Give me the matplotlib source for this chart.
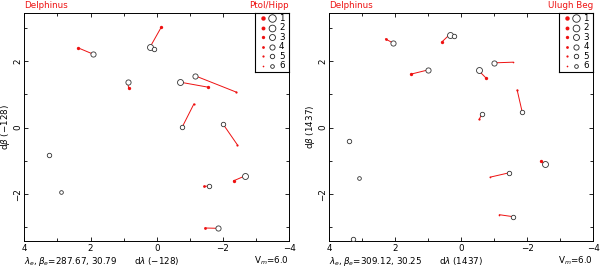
import matplotlib
matplotlib.use("Agg")
import matplotlib.pyplot as plt
from matplotlib.ticker import MultipleLocator

plt.rcParams['font.family'] = ['DejaVu Sans']
plt.rcParams['mathtext.fontset'] = 'dejavusans'

# ---------------- data ----------------
# Left panel: Ptol/Hipp
L_red_x = [2.37, -0.14, 0.85, -1.54, -2.40, -1.12, -2.43, -2.32, -1.44, -1.46]
L_red_y = [2.40, 3.03, 1.20, 1.22, 1.07, 0.71, -0.51, -1.60, -1.77, -3.02]
L_red_m = [3, 3, 3, 3, 5, 5, 5, 3, 4, 4]
L_open_x = [1.94, 0.205, 0.88, -0.70, -1.16, -0.77, -2.00, -2.67, -1.59, -1.86]
L_open_y = [2.22, 2.42, 1.37, 1.37, 1.56, 0.02, 0.11, -1.45, -1.75, -3.03]
L_open_m = [4, 3, 4, 3, 4, 5, 5, 3, 5, 4]
L_extra_x = [0.09, 3.24, 2.90]
L_extra_y = [2.38, -0.81, -1.93]
L_extra_m = [5, 5, 6]

# Right panel: Ulugh Beg
R_red_x = [2.30, 0.58, 1.53, -0.74, -1.55, -1.69, -0.54, -2.41, -0.87, -1.15]
R_red_y = [2.67, 2.59, 1.61, 1.50, 1.97, 1.13, 0.25, -1.01, -1.49, -2.62]
R_red_m = [4, 3, 3, 3, 6, 5, 5, 3, 6, 6]
R_open_x = [2.06, 0.36, 1.00, -0.52, -1.00, -1.84, -0.62, -2.54, -1.44, -1.57]
R_open_y = [2.54, 2.80, 1.74, 1.72, 1.95, 0.48, 0.41, -1.09, -1.36, -2.68]
R_open_m = [4, 3, 4, 3, 4, 5, 5, 3, 5, 5]
R_extra_x = [0.22, 3.42, 3.10, 3.27]
R_extra_y = [2.77, -0.41, -1.51, -3.35]
R_extra_m = [5, 5, 6, 5]

legend_mags = [1, 2, 3, 4, 5, 6]
legend_labels = ['1', '2', '3', '4', '5', '6']

panels = [
    dict(name='Ptol/Hipp', yl=r'd$\beta$ (−128)', xl=r'd$\lambda$ (−128)',
         info=r'$\lambda_e,\beta_e$=287.67, 30.79',
         rx=L_red_x, ry=L_red_y, rm=L_red_m, ox=L_open_x, oy=L_open_y, om=L_open_m,
         ex=L_extra_x, ey=L_extra_y, em=L_extra_m),
    dict(name='Ulugh Beg', yl=r'd$\beta$ (1437)', xl=r'd$\lambda$ (1437)',
         info=r'$\lambda_e,\beta_e$=309.12, 30.25',
         rx=R_red_x, ry=R_red_y, rm=R_red_m, ox=R_open_x, oy=R_open_y, om=R_open_m,
         ex=R_extra_x, ey=R_extra_y, em=R_extra_m),
]

RED = '#ee1111'


def red_size(m):
    return 3.2 - 0.4 * (m - 1)


def open_size(m):
    return 5.4 - 0.55 * (m - 1)


fig = plt.figure(figsize=(6.0, 2.67), dpi=100)
positions = [[0.0405, 0.0963, 0.4415, 0.8562], [0.549, 0.0963, 0.440, 0.8562]]
fs = 6.3

for pos, p in zip(positions, panels):
    ax = fig.add_axes(pos)
    ax.set_xlim(4, -4)
    ax.set_ylim(-3.42, 3.46)
    # connecting lines
    for x0, y0, x1, y1 in zip(p['ox'], p['oy'], p['rx'], p['ry']):
        ax.plot([x0, x1], [y0, y1], color=RED, lw=0.7, zorder=2)
    for x, y, m in zip(p['ox'] + p['ex'], p['oy'] + p['ey'], p['om'] + p['em']):
        ax.plot(x, y, 'o', ms=open_size(m), mfc='white', mec='#333333', mew=0.6, zorder=3)
    for x, y, m in zip(p['rx'], p['ry'], p['rm']):
        ax.plot(x, y, 'o', ms=red_size(m), mfc=RED, mec=RED, mew=0, zorder=4)

    ax.xaxis.set_minor_locator(MultipleLocator(1))
    ax.yaxis.set_minor_locator(MultipleLocator(1))
    ax.tick_params(which='both', direction='in', top=True, right=True,
                   labelsize=fs, width=0.6, pad=2)
    ax.tick_params(axis='y', pad=1.5)
    ax.tick_params(which='major', length=3)
    ax.tick_params(which='minor', length=2)
    ax.set_xticks([4, 2, 0, -2, -4])
    ax.set_xticklabels(['4', '2', '0', '−2', '−4'])
    ax.set_yticks([-2, 0, 2])
    ax.set_yticklabels(['−2', '0', '2'], rotation=90, va='center')
    for s in ax.spines.values():
        s.set_linewidth(0.7)
    ax.set_ylabel(p['yl'], fontsize=fs)
    ax.yaxis.set_label_coords(-0.048, 0.5)

    ax.text(0.0, 1.012, 'Delphinus', color=RED, fontsize=fs, transform=ax.transAxes,
            ha='left', va='bottom')
    ax.text(1.0, 1.012, p['name'], color=RED, fontsize=fs, transform=ax.transAxes,
            ha='right', va='bottom')
    ax.text(0.0, -0.058, p['info'], fontsize=fs, transform=ax.transAxes, ha='left', va='top')
    ax.text(0.5, -0.058, p['xl'], fontsize=fs, transform=ax.transAxes, ha='center', va='top')
    ax.text(1.0, -0.058, r'V$_m$=6.0', fontsize=fs, transform=ax.transAxes, ha='right', va='top')

    # legend box
    lg = ax.inset_axes([1 - 0.1295, 1 - 0.258, 0.1295, 0.258])
    lg.set_xlim(0, 1)
    lg.set_ylim(6.6, 0.4)
    lg.set_xticks([])
    lg.set_yticks([])
    for s in lg.spines.values():
        s.set_linewidth(0.8)
    for i, (m, lab) in enumerate(zip(legend_mags, legend_labels)):
        lg.plot(0.24, i + 1, 'o', ms=red_size(m), mfc=RED, mec=RED, mew=0)
        lg.plot(0.50, i + 1, 'o', ms=open_size(m), mfc='white', mec='#222222', mew=0.6)
        lg.text(0.78, i + 1, lab, fontsize=fs, ha='center', va='center')

fig.savefig('out.png', dpi=100)
